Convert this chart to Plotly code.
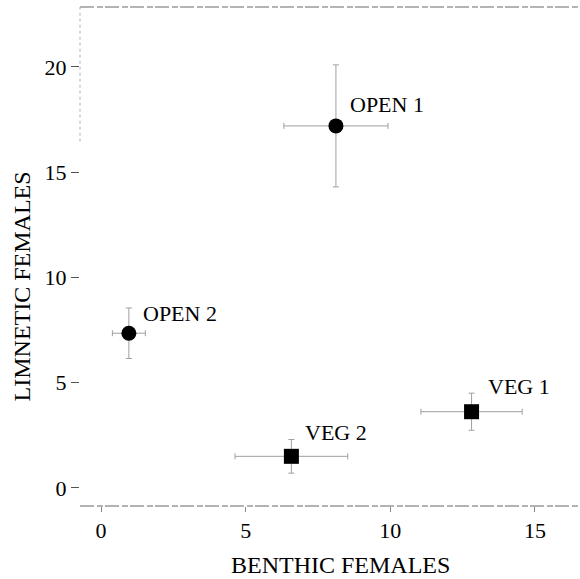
import plotly.graph_objects as go

labels = ["OPEN 1", "OPEN 2", "VEG 1", "VEG 2"]
benthic = [8.12, 0.96, 12.81, 6.58]
benthic_err = [1.8, 0.57, 1.75, 1.95]
limnetic = [17.2, 7.35, 3.62, 1.5]
limnetic_err = [2.9, 1.2, 0.88, 0.8]
symbols = ["circle", "circle", "square", "square"]
label_shift_x = [12, 12, 14, 12]
label_shift_y = [21, 20, 25, 24]

x_ticks = [0, 5, 10, 15]
y_ticks = [0, 5, 10, 15, 20]

FONT = "Liberation Serif"
ERR = "#a0a0a0"

fig = go.Figure()
fig.add_trace(go.Scatter(
    x=benthic, y=limnetic, mode="markers",
    marker=dict(symbol=symbols, size=15, color="black", line=dict(width=0)),
    error_x=dict(type="data", array=benthic_err, color=ERR, thickness=1, width=3),
    error_y=dict(type="data", array=limnetic_err, color=ERR, thickness=1, width=3),
    showlegend=False, hoverinfo="skip",
))

for lab, x, y, sx, sy in zip(labels, benthic, limnetic, label_shift_x, label_shift_y):
    fig.add_annotation(x=x, y=y, text=lab, showarrow=False, xanchor="left", yanchor="middle",
                       xshift=sx, yshift=sy, font=dict(family=FONT, size=22, color="black"))

# axis titles
fig.add_annotation(xref="paper", yref="paper", x=0.52, y=0, yshift=-59, text="BENTHIC FEMALES",
                   showarrow=False, xanchor="center", yanchor="middle",
                   font=dict(family=FONT, size=24, color="black"))
fig.add_annotation(xref="paper", yref="paper", x=0, xshift=-58, y=0.44, text="LIMNETIC FEMALES",
                   showarrow=False, textangle=-90, xanchor="center", yanchor="middle",
                   font=dict(family=FONT, size=24, color="black"))

# frame lines (scanned, dashed look)
fig.add_shape(type="line", xref="paper", yref="paper", x0=0, x1=1, y0=0, y1=0,
              line=dict(color="#686868", width=1.2, dash="14px,3px,6px,2px"))
fig.add_shape(type="line", xref="paper", yref="paper", x0=0, x1=1, y0=1, y1=1,
              line=dict(color="#686868", width=1.2, dash="14px,3px,6px,2px"))
fig.add_shape(type="line", xref="paper", yref="paper", x0=0, x1=0, y0=0.73, y1=1,
              line=dict(color="#b0b0b0", width=1, dash="dot"))

fig.update_xaxes(range=[-0.73, 16.56], tickvals=x_ticks, ticks="outside", ticklen=5,
                 tickcolor="#888", showline=False, showgrid=False, zeroline=False,
                 tickfont=dict(family=FONT, size=22, color="black"))
fig.update_yaxes(range=[-0.86, 22.85], tickvals=y_ticks, ticks="outside", ticklen=8,
                 tickcolor="#555", showline=False, showgrid=False, zeroline=False,
                 tickfont=dict(family=FONT, size=22, color="black"))

fig.update_layout(width=580, height=579, margin=dict(l=80, r=0, t=7, b=73),
                  plot_bgcolor="white", paper_bgcolor="white")

fig.write_html("out.html", config={"displayModeBar": False},
               post_script="document.body.style.margin='0';document.body.style.overflow='hidden';")
